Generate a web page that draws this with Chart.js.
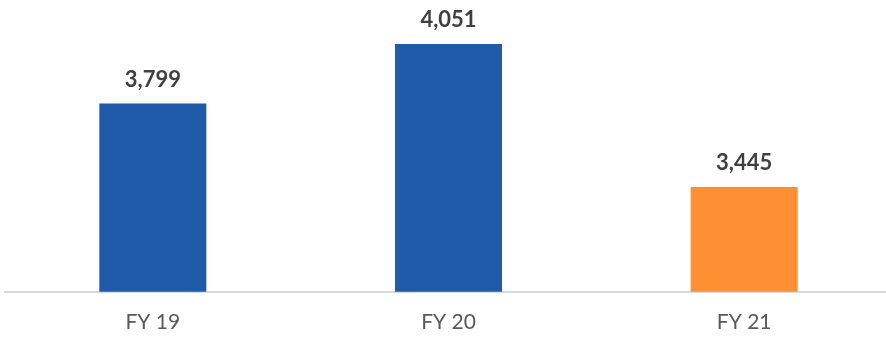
<!DOCTYPE html>
<html>
<head>
<meta charset="utf-8">
<script src="https://cdn.jsdelivr.net/npm/chart.js@4"></script>
<style>
  html, body { margin: 0; padding: 0; background: #fff; overflow: hidden; }
  #wrap { width: 892px; height: 353px; position: relative; }
</style>
</head>
<body>
<div id="wrap"><canvas id="revenueChart"></canvas></div>
<script>
const years = ['FY 19', 'FY 20', 'FY 21'];
const revenue = [3799, 4051, 3445];
const barColors = ['#1f5ba8', '#1f5ba8', '#ff8f33'];

const FONT = "Lato, 'Open Sans', sans-serif";

// ---- value labels above each bar ----
const barValuesPlugin = {
  id: 'barValues',
  afterDatasetsDraw(chart) {
    const { ctx } = chart;
    const meta = chart.getDatasetMeta(0);
    ctx.save();
    ctx.font = "bold 22px " + FONT;
    ctx.fillStyle = '#404040';
    ctx.textAlign = 'center';
    ctx.textBaseline = 'alphabetic';
    meta.data.forEach((bar, i) => {
      const v = chart.data.datasets[0].data[i];
      ctx.fillText(v.toLocaleString('en-US'), bar.x, bar.y - 17);
    });
    ctx.restore();
  }
};

const ctx = document.getElementById('revenueChart').getContext('2d');
new Chart(ctx, {
  type: 'bar',
  data: {
    labels: years,
    datasets: [{
      data: revenue,
      backgroundColor: barColors,
      borderWidth: 0,
      barPercentage: 0.362,
      categoryPercentage: 1
    }]
  },
  options: {
    responsive: true,
    maintainAspectRatio: false,
    animation: false,
    layout: { padding: { top: 9, left: 5, right: 0, bottom: 0 } },
    plugins: {
      legend: { display: false },
      tooltip: { enabled: false }
    },
    scales: {
      x: {
        grid: { display: false, drawTicks: false },
        border: { display: true, color: '#d9d9d9', width: 2 },
        ticks: {
          color: '#595959',
          padding: 18,
          font: { family: FONT, size: 21 }
        }
      },
      y: {
        display: false,
        min: 3000,
        max: 4200
      }
    }
  },
  plugins: [barValuesPlugin]
});
</script>
</body>
</html>
